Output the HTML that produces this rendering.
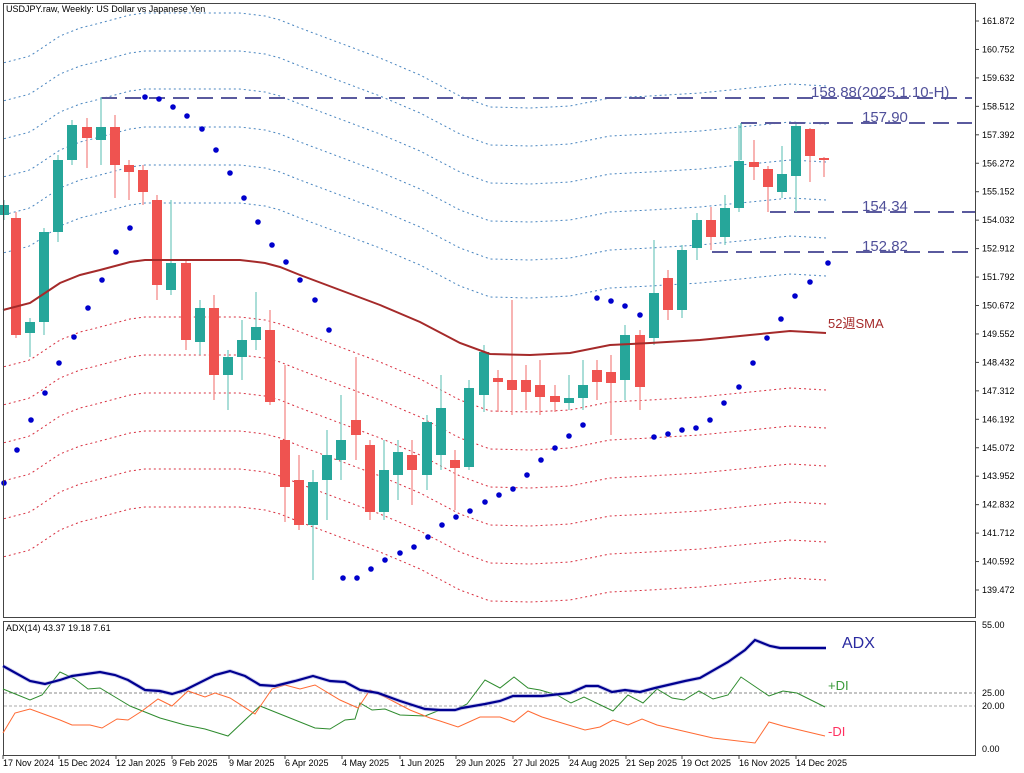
<!DOCTYPE html>
<html><head><meta charset="utf-8"><style>
html,body{margin:0;padding:0;background:#fff;}
svg{display:block;font-family:"Liberation Sans","Noto Sans CJK JP",sans-serif;}
</style></head><body>
<svg id="s" width="1024" height="773" viewBox="0 0 1024 773" xmlns="http://www.w3.org/2000/svg">
<rect width="1024" height="773" fill="#fff"/>
<g id="bands"></g>
<g id="hl" stroke="#5a5a9e" stroke-width="2" stroke-dasharray="16,8" fill="none">
<line x1="101" y1="98" x2="972" y2="98"/>
<line x1="741" y1="123" x2="972" y2="123"/>
<line x1="770" y1="212" x2="975" y2="212"/>
<line x1="712" y1="252" x2="975" y2="252"/>
</g>
<line x1="741" y1="123" x2="741" y2="160" stroke="#26a69a" stroke-width="1"/>
<g id="candles"></g>
<polyline id="sma" fill="none" stroke="#a52a2a" stroke-width="2" points=""/>
<g id="sar" fill="#0000cc"></g>
<g font-size="15" fill="#50509a">
<text x="811" y="97">158.88(2025.1.10-H)</text>
<text x="862" y="122">157.90</text>
<text x="862" y="211">154.34</text>
<text x="862" y="251">152.82</text>
</g>
<text x="828" y="328" font-size="13" fill="#a52a2a">52週SMA</text>
<text x="6" y="12" font-size="9" fill="#000">USDJPY.raw, Weekly:  US Dollar vs Japanese Yen</text>
<rect x="3.5" y="3.5" width="972" height="614" fill="none" stroke="#444" stroke-width="1"/>
<rect x="3.5" y="621.5" width="972" height="134" fill="none" stroke="#444" stroke-width="1"/>
<g id="yax" font-size="9" fill="#000"></g>
<line x1="4" y1="693" x2="975" y2="693" stroke="#888" stroke-dasharray="3,2"/>
<line x1="4" y1="706" x2="975" y2="706" stroke="#aaa" stroke-dasharray="3,2"/>
<text x="6" y="631" font-size="9">ADX(14) 43.37 19.18 7.61</text>
<polyline fill="none" stroke="#2e8b2e" stroke-width="1" points="3,689 30,700 42,695 60,672 75,679 88,689 100,688 115,697 130,706 160,718 185,725 205,729 228,736 245,720 260,706 285,716 315,728 330,729 345,720 355,719 360,703 372,710 385,709 400,715 425,716 440,710 455,710 467,704 485,680 500,688 514,677 528,688 540,690 557,695 571,703 584,697 613,711 628,695 643,703 657,689 672,698 684,700 699,691 713,699 728,695 741,677 769,696 783,691 797,693 825,707"/>
<polyline fill="none" stroke="#ff6a33" stroke-width="1" points="3,733 15,713 30,709 60,720 72,725 90,725 102,728 117,719 128,720 142,711 158,699 172,706 188,691 205,697 215,693 230,698 255,714 272,689 285,685 300,689 315,685 340,700 358,708 370,690 385,697 410,710 430,718 440,721 458,727 480,717 500,717 514,722 528,711 542,717 585,730 600,727 613,720 628,725 642,719 657,725 700,735 713,738 755,743 769,722 783,726 825,736"/>
<polyline fill="none" stroke="#9fa0e0" stroke-width="4" opacity="0.5" points="3,666 30,681 45,684 60,680 72,676 100,672 115,675 128,680 145,690 160,691 172,694 185,690 215,675 230,671 245,676 260,685 275,686 295,681 313,676 330,681 345,682 360,690 378,693 400,701 425,709 440,710 455,710 462,708 485,704 500,701 513,696 542,696 570,693 586,686 598,686 612,692 625,690 640,692 655,688 685,681 700,678 728,662 745,650 755,640 770,646 780,648 826,648"/>
<polyline fill="none" stroke="#000090" stroke-width="2.2" points="3,666 30,681 45,684 60,680 72,676 100,672 115,675 128,680 145,690 160,691 172,694 185,690 215,675 230,671 245,676 260,685 275,686 295,681 313,676 330,681 345,682 360,690 378,693 400,701 425,709 440,710 455,710 462,708 485,704 500,701 513,696 542,696 570,693 586,686 598,686 612,692 625,690 640,692 655,688 685,681 700,678 728,662 745,650 755,640 770,646 780,648 826,648"/>
<text x="842" y="648" font-size="16" fill="#2a2aa0">ADX</text>
<text x="828" y="690" font-size="13" fill="#3a9a3a">+DI</text>
<text x="828" y="736" font-size="13" fill="#ff3060">-DI</text>
<g font-size="9" fill="#000">
<text x="982" y="628">55.00</text><text x="982" y="696">25.00</text><text x="982" y="709">20.00</text><text x="982" y="752">0.00</text>
</g>
<g id="xax" font-size="9" fill="#000">
<text x="3" y="766">17 Nov 2024</text><text x="59" y="766">15 Dec 2024</text><text x="116" y="766">12 Jan 2025</text><text x="172" y="766">9 Feb 2025</text><text x="229" y="766">9 Mar 2025</text><text x="285" y="766">6 Apr 2025</text><text x="342" y="766">4 May 2025</text><text x="400" y="766">1 Jun 2025</text><text x="456" y="766">29 Jun 2025</text><text x="513" y="766">27 Jul 2025</text><text x="569" y="766">24 Aug 2025</text><text x="626" y="766">21 Sep 2025</text><text x="682" y="766">19 Oct 2025</text><text x="739" y="766">16 Nov 2025</text><text x="796" y="766">14 Dec 2025</text>
</g>
<g id="ticks" stroke="#444"></g>
</svg>
<script>
var NS="http://www.w3.org/2000/svg";
function el(t,a,p){var e=document.createElementNS(NS,t);for(var k in a)e.setAttribute(k,a[k]);document.getElementById(p).appendChild(e);return e;}
var sma=[[3,310],[30,303],[45,293],[60,283],[80,275],[100,270],[130,262],[145,260],[200,260],[240,260],[265,263],[280,267],[300,275],[340,290],[380,305],[420,322],[460,343],[490,354],[530,355],[570,353],[610,345],[650,343],[700,340],[750,335],[790,331],[826,333]];
document.getElementById("sma").setAttribute("points",sma.map(function(p){return p.join(",")}).join(" "));
function smaAt(x){for(var i=0;i<sma.length-1;i++){if(x<=sma[i+1][0]){var a=sma[i],b=sma[i+1];return a[1]+(b[1]-a[1])*(x-a[0])/(b[0]-a[0]);}}return sma[sma.length-1][1];}
for(var k=0;k<6;k++){[-1,1].forEach(function(s){var pts=[];for(var x=4;x<=826;x+=3){var y=smaAt(x)+s*(57+38*k);if(y>4)pts.push(x+","+y.toFixed(1));}
el("polyline",{points:pts.join(" "),fill:"none",stroke:s<0?"#4a86c0":"#d83040","stroke-width":"1","stroke-dasharray":"2,3"},"bands");});}
var c=[[4,215,205,200,220],[16,218,335,212,338],[30,333,322,318,357],[44,322,232,228,335],[58,232,160,155,242],[72,160,125,120,165],[87,127,138,118,168],[101,140,127,97,165],[115,127,165,115,198],[129,165,172,160,200],[143,170,192,165,205],[157,200,285,195,300],[171,290,263,200,295],[186,263,340,260,350],[200,342,308,300,355],[214,308,375,295,400],[228,375,357,350,410],[242,357,340,320,380],[256,340,327,292,350],[270,330,402,310,405],[285,440,487,365,522],[299,480,525,455,530],[313,525,482,470,580],[327,480,455,430,520],[341,460,440,395,480],[356,420,435,357,460],[370,445,512,440,520],[384,512,470,440,520],[398,475,452,440,500],[412,455,470,440,505],[427,475,422,415,490],[441,455,408,375,470],[455,460,468,450,510],[469,467,388,380,470],[484,395,352,345,412],[498,378,382,370,412],[512,380,390,300,415],[526,380,392,365,410],[540,385,397,360,415],[555,396,402,385,412],[569,403,398,375,410],[583,398,385,360,410],[597,370,382,360,400],[611,372,383,355,435],[625,380,335,325,400],[640,335,387,330,410],[654,338,293,240,345],[668,278,310,270,320],[682,310,250,245,318],[697,248,220,213,260],[711,220,237,207,250],[725,237,208,195,245],[739,208,161,125,212],[754,162,167,140,180],[768,169,187,166,212],[782,192,174,146,198],[796,176,126,124,212],[810,129,156,128,182],[824,158,159,157,177]];
c.forEach(function(d){var x=d[0],o=d[1],cl=d[2],up=cl<o,col=up?"#26a69a":"#ef5350",wc=up?"#7ccbc3":"#f48c8a";
el("line",{x1:x,x2:x,y1:d[3],y2:d[4],stroke:wc,"stroke-width":"1.3"},"candles");
var t=Math.min(o,cl),h=Math.max(Math.abs(o-cl),2);el("rect",{x:x-5,y:t,width:10,height:h,fill:col},"candles");});
var s=[[4,483],[17,450],[31,420],[45,393],[59,363],[74,337],[88,308],[102,280],[116,252],[130,228],[145,97],[159,99],[173,107],[187,116],[202,129],[216,150],[230,173],[244,198],[258,222],[272,245],[286,262],[300,280],[315,300],[329,330],[343,578],[357,578],[371,569],[385,560],[400,553],[414,547],[428,537],[442,525],[456,517],[470,511],[485,502],[499,495],[513,489],[527,475],[541,460],[555,448],[569,436],[583,425],[597,298],[611,301],[625,306],[640,315],[654,437],[668,434],[682,430],[696,428],[710,420],[724,403],[739,387],[753,363],[767,338],[781,319],[795,296],[810,282],[828,263]];
s.forEach(function(p){el("circle",{cx:p[0],cy:p[1],r:"2.8"},"sar");});
var v=161.872;for(var i=0;i<21;i++){var y=21+i*28.45;var t=el("text",{x:982,y:(y+3).toFixed(1)},"yax");t.textContent=(v-i*1.12).toFixed(3);el("line",{x1:975,x2:979,y1:y,y2:y,stroke:"#444"},"ticks");}
[3,59,116,172,229,285,342,400,456,513,569,626,682,739,796].forEach(function(x){el("line",{x1:x,x2:x,y1:755,y2:759},"ticks");});
</script>
</body></html>
